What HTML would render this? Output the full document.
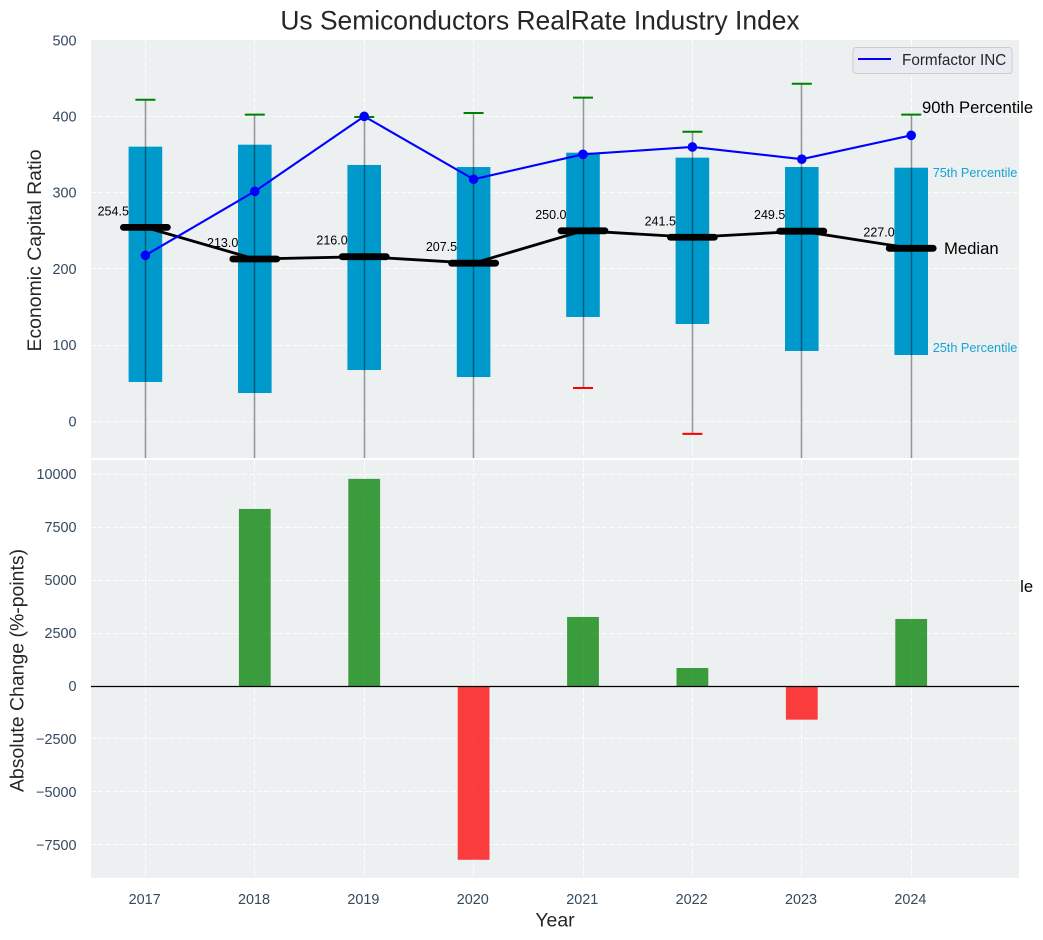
<!DOCTYPE html>
<html lang="en">
<head>
<meta charset="utf-8">
<title>Us Semiconductors RealRate Industry Index</title>
<style>
  html, body { margin: 0; padding: 0; background: #ffffff; }
  svg { display: block; font-family: "Liberation Sans", Arial, sans-serif; }
  .tick { font-size: 14.4px; fill: #34495e; }
  .axis-label { font-size: 19.44px; fill: #262626; }
</style>
</head>
<body>
<svg id="chart" xmlns="http://www.w3.org/2000/svg" width="1043" height="940" viewBox="0 0 1043 940">
  <defs>
    <clipPath id="top-clip"><rect x="91" y="40" width="928" height="418"></rect></clipPath>
    <clipPath id="bottom-clip"><rect x="91" y="460" width="928" height="418"></rect></clipPath>
  </defs>
  <text x="540" y="29.5" text-anchor="middle" font-size="26.4" fill="#262626">Us Semiconductors RealRate Industry Index</text>

  <rect x="91" y="40" width="928" height="418" fill="#ecf0f1"></rect>
  <g id="top-grid"></g>
  <g id="top-ticks"></g>
  <g id="median-labels"></g>
  <g id="boxes" clip-path="url(#top-clip)"></g>
  <g id="whiskers" clip-path="url(#top-clip)"></g>
  <g id="median-series" clip-path="url(#top-clip)"></g>
  <g id="company-series" clip-path="url(#top-clip)"></g>
  <g id="annotations">
    <text id="note-p90" font-size="16.67" fill="#000000">90th Percentile</text>
    <text id="note-p75" font-size="12.7" fill="#1aa3d1">75th Percentile</text>
    <text id="note-median" font-size="16.67" fill="#000000">Median</text>
    <text id="note-p25" font-size="12.7" fill="#1aa3d1">25th Percentile</text>
    <text id="note-p10" font-size="16.67" fill="#000000">10th Percentile</text>
  </g>
  <g>
    <rect x="853" y="47.5" width="159" height="26" rx="3" fill="#eaeaf2" fill-opacity="0.8" stroke="#cccccc" stroke-width="1"></rect>
    <line x1="858" x2="891" y1="59" y2="59" stroke="#0000ff" stroke-width="2"></line>
    <text x="902" y="65" font-size="15.28" fill="#262626">Formfactor INC</text>
  </g>
  <text class="axis-label" text-anchor="middle" transform="translate(41 250.5) rotate(-90)">Economic Capital Ratio</text>

  <rect x="91" y="460" width="928" height="418" fill="#ecf0f1"></rect>
  <g id="bottom-grid"></g>
  <g id="bottom-ticks"></g>
  <g id="change-bars" clip-path="url(#bottom-clip)"></g>
  <line x1="91" x2="1019" y1="686.5" y2="686.5" stroke="#000000" stroke-width="1.2"></line>
  <g id="x-ticks"></g>
  <text class="axis-label" text-anchor="middle" transform="translate(23.5 670.5) rotate(-90)">Absolute Change (%-points)</text>
  <text class="axis-label" x="555" y="926.5" text-anchor="middle">Year</text>
</svg>
<script>
const years = [2017, 2018, 2019, 2020, 2021, 2022, 2023, 2024];
const p90 = [422, 402.4, 399.3, 404.6, 424.7, 380, 443, 402.4];
const p75 = [360.4, 363, 336.4, 333.7, 352.5, 346, 333.7, 332.8];
const medians = [254.5, 213.0, 216.0, 207.5, 250.0, 241.5, 249.5, 227.0];
const p25 = [51.6, 37.1, 67.3, 58.1, 136.9, 127.7, 92.3, 87];
const p10 = [-150, -180, -120, -160, 43.7, -16.5, -140, -217];
const formfactor = [217.8, 301.8, 400.2, 317.6, 350.4, 360, 344, 375.3];
const absoluteChange = [null, 8360, 9780, -8205, 3260, 850, -1590, 3165];
const topTicks = [0, 100, 200, 300, 400, 500];
const bottomTicks = [-7500, -5000, -2500, 0, 2500, 5000, 7500, 10000];

const NS = 'http://www.w3.org/2000/svg';
const PANEL_LEFT = 91, PANEL_RIGHT = 1019;
const TOP_START = 40, TOP_END = 458, BOTTOM_START = 460, BOTTOM_END = 878;

function xPos(i) { return 145.4 + 109.4 * i; }
function yTop(v) { return 421.3 - 0.762 * v; }
function yBottom(v) { return 686 - 0.02118 * v; }
function snap(p) { return Math.floor(p) + 0.5; }
function fmtTick(v) { return v < 0 ? '\u2212' + Math.abs(v) : String(v); }

function make(tag, attrs, parent) {
  const node = document.createElementNS(NS, tag);
  for (const key in attrs) node.setAttribute(key, attrs[key]);
  parent.appendChild(node);
  return node;
}
function layer(id) { return document.getElementById(id); }

/* grid lines */
const gridStyle = { stroke: '#ffffff', 'stroke-width': 1, 'stroke-dasharray': '5 2.2', 'stroke-opacity': 0.85 };
topTicks.forEach(function (t) {
  if (t === 500) return;
  const el = make('line', Object.assign({ x1: PANEL_LEFT, x2: PANEL_RIGHT, y1: snap(yTop(t)), y2: snap(yTop(t)) }, gridStyle), layer('top-grid'));
  
  
});
bottomTicks.forEach(function (t) {
  const el = make('line', Object.assign({ x1: PANEL_LEFT, x2: PANEL_RIGHT, y1: snap(yBottom(t)), y2: snap(yBottom(t)) }, gridStyle), layer('bottom-grid'));
  
  
});
years.forEach(function (yr, i) {
  const a = make('line', Object.assign({ x1: snap(xPos(i)), x2: snap(xPos(i)), y1: TOP_START, y2: TOP_END }, gridStyle), layer('top-grid'));
  
  
  const b = make('line', Object.assign({ x1: snap(xPos(i)), x2: snap(xPos(i)), y1: BOTTOM_START, y2: BOTTOM_END }, gridStyle), layer('bottom-grid'));
  
  
});

/* tick labels */
topTicks.forEach(function (t) {
  const el = make('text', { class: 'tick', x: 76.5, y: yTop(t) + 5, 'text-anchor': 'end' }, layer('top-ticks'));
  
  
  el.textContent = fmtTick(t);
});
bottomTicks.forEach(function (t) {
  const el = make('text', { class: 'tick', x: 76.5, y: yBottom(t) + 5, 'text-anchor': 'end' }, layer('bottom-ticks'));
  
  
  el.textContent = fmtTick(t);
});
years.forEach(function (yr, i) {
  const el = make('text', { class: 'tick', x: xPos(i) - 0.8, y: 904, 'text-anchor': 'middle' }, layer('x-ticks'));
  
  
  el.textContent = String(yr);
});

/* median value labels (sit underneath the boxes) */
medians.forEach(function (m, i) {
  const el = make('text', { x: xPos(i) - 16.5, y: yTop(m) - 12, 'text-anchor': 'end', 'font-size': 12.5, fill: '#000000' }, layer('median-labels'));
  
  
  el.textContent = m.toFixed(1);
});

/* interquartile boxes */
years.forEach(function (yr, i) {
  const el = make('rect', {
    x: xPos(i) - 16.8, width: 33.6,
    y: yTop(p75[i]), height: yTop(p25[i]) - yTop(p75[i]),
    fill: '#0099cc'
  }, layer('boxes'));
  
  
});

/* whiskers and caps */
years.forEach(function (yr, i) {
  const cx = snap(xPos(i));
  const stem = make('line', { x1: cx, x2: cx, y1: yTop(p90[i]), y2: yTop(p10[i]), stroke: '#000000', 'stroke-opacity': 0.4, 'stroke-width': 1.5 }, layer('whiskers'));
  
  
  const up = make('line', { x1: xPos(i) - 10, x2: xPos(i) + 10, y1: yTop(p90[i]), y2: yTop(p90[i]), stroke: '#008000', 'stroke-width': 2 }, layer('whiskers'));
  
  
  const low = make('line', { x1: xPos(i) - 10, x2: xPos(i) + 10, y1: yTop(p10[i]), y2: yTop(p10[i]), stroke: '#ff0000', 'stroke-width': 2 }, layer('whiskers'));
  
  
});

/* median connecting line and thick markers */
const medianPath = make('polyline', {
  points: medians.map(function (m, i) { return xPos(i) + ',' + yTop(m); }).join(' '),
  fill: 'none', stroke: '#000000', 'stroke-width': 2.8, 'stroke-linejoin': 'round'
}, layer('median-series'));


medians.forEach(function (m, i) {
  const el = make('line', {
    x1: xPos(i) - 22, x2: xPos(i) + 22, y1: yTop(m), y2: yTop(m),
    stroke: '#000000', 'stroke-width': 6.8, 'stroke-linecap': 'round'
  }, layer('median-series'));
  
  
});

/* company series */
const companyPath = make('polyline', {
  points: formfactor.map(function (v, i) { return xPos(i) + ',' + yTop(v); }).join(' '),
  fill: 'none', stroke: '#0000ff', 'stroke-width': 2.1
}, layer('company-series'));


formfactor.forEach(function (v, i) {
  const el = make('circle', { cx: xPos(i), cy: yTop(v), r: 4.8, fill: '#0000ff' }, layer('company-series'));
  
  
});

/* notes anchored to the final year's values */
const last = years.length - 1;
function place(id, x, y) {
  const note = document.getElementById(id);
  note.setAttribute('x', x);
  note.setAttribute('y', y);
}
place('note-p90', xPos(last) + 10.8, yTop(p90[last]) - 1.5);
place('note-p75', xPos(last) + 21.5, yTop(p75[last]) + 9.3);
place('note-median', xPos(last) + 32.8, yTop(medians[last]) + 5.5);
place('note-p25', xPos(last) + 21.5, yTop(p25[last]) - 3);
place('note-p10', xPos(last) + 10.8, yTop(p10[last]) + 5.4);

/* absolute change bars */
absoluteChange.forEach(function (v, i) {
  if (v === null) return;
  const el = make('rect', {
    x: xPos(i) - 15.9, width: 31.8,
    y: Math.min(yBottom(0), yBottom(v)),
    height: Math.abs(yBottom(v) - yBottom(0)),
    fill: v >= 0 ? '#008000' : '#ff0000', 'fill-opacity': 0.75
  }, layer('change-bars'));
  
  
});
</script>
</body>
</html>
